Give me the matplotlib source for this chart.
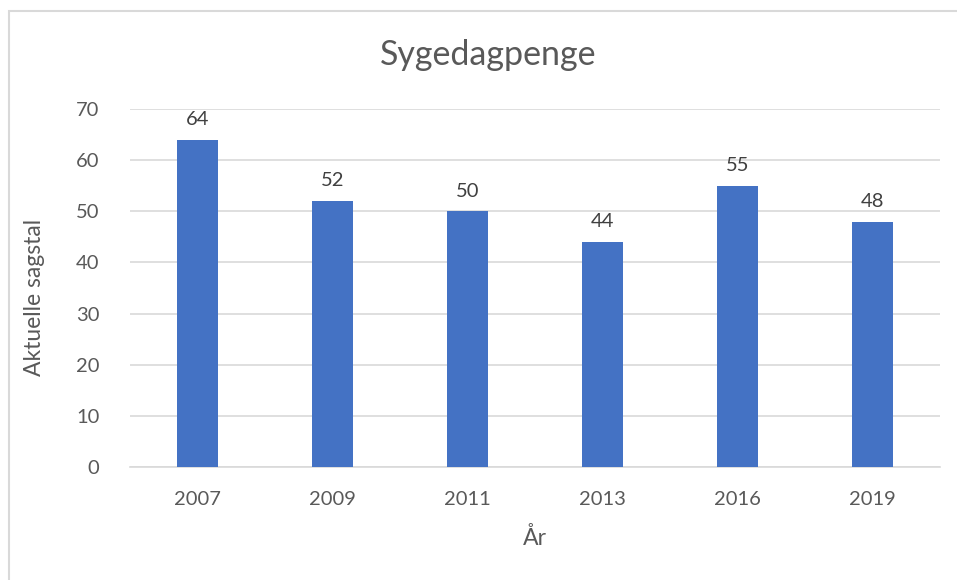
import matplotlib.pyplot as plt
from matplotlib.patches import Rectangle

years = ["2007", "2009", "2011", "2013", "2016", "2019"]
values = [64, 52, 50, 44, 55, 48]
yticks = [0, 10, 20, 30, 40, 50, 60, 70]

plt.rcParams['font.family'] = ['Lato', 'DejaVu Sans']
text_col = '#595959'

fig = plt.figure(figsize=(9.57, 5.80), dpi=100)
# chart area border (Excel style)
fig.patches.append(Rectangle((9 / 957, -0.05), 1.0, (580 - 11) / 580 + 0.05,
                             transform=fig.transFigure, fill=False,
                             edgecolor='#D9D9D9', linewidth=1.5))

ax = fig.add_axes([130 / 957, (580 - 467) / 580, (940 - 130) / 957, (467 - 109) / 580])
x = range(len(years))
ax.bar(x, values, width=0.31, color='#4472C4', zorder=3)
for i, v in enumerate(values):
    ax.text(i, v + 2.3, str(v), ha='center', va='bottom', fontsize=14.5, color='#404040')

ax.set_xlim(-0.5, len(years) - 0.5)
ax.set_ylim(0, 70)
ax.set_yticks(yticks)
ax.set_xticks(list(x))
ax.set_xticklabels(years)
ax.yaxis.grid(True, color='#D9D9D9', linewidth=1.2, zorder=0)
ax.tick_params(axis='both', length=0, labelsize=14.5, colors=text_col)
ax.tick_params(axis='x', pad=17)
ax.tick_params(axis='y', pad=22)
for s in ['top', 'right', 'left']:
    ax.spines[s].set_visible(False)
ax.spines['bottom'].set_color('#D9D9D9')
ax.spines['bottom'].set_linewidth(1.2)

ax.set_xlabel("År", fontsize=16.5, color=text_col, labelpad=14)
ax.set_ylabel("Aktuelle sagstal", fontsize=16.5, color=text_col)
ax.yaxis.set_label_coords(-0.105, 0.475)
fig.text(488 / 957, 1 - 55 / 580, "Sygedagpenge", ha='center', va='center',
         fontsize=24.5, color=text_col)

fig.savefig("out.png", dpi=100)
